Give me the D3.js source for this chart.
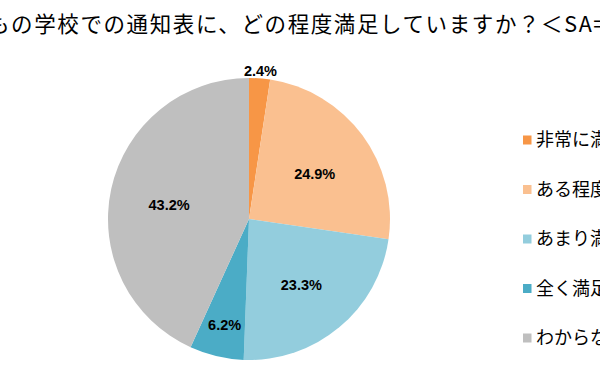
<!DOCTYPE html>
<html>
<head>
<meta charset="utf-8">
<script src="https://cdn.jsdelivr.net/npm/d3@7"></script>
<style>
  body { margin: 0; background: #fff; overflow: hidden; }
  svg { display: block; }
</style>
</head>
<body>
<div id="chart"></div>
<script>

// chart data
const titleText = "もの学校での通知表に、どの程度満足していますか？＜SA=";
const categories = ["非常に満足している", "ある程度満足している", "あまり満足していない", "全く満足していない", "わからない"];
const values = [2.4, 24.9, 23.3, 6.2, 43.2];
const colors = ["#F79646", "#FAC090", "#93CDDD", "#4BACC6", "#BFBFBF"];

const width = 600, height = 376;

const svg = d3.select("#chart").append("svg")
    .attr("width", width)
    .attr("height", height);

// title (left part is cut off in the original picture)
svg.append("text")
    .attr("x", -12)
    .attr("y", 32)
    .attr("font-family", "'Noto Sans CJK JP', sans-serif")
    .attr("font-size", 21.5)
    .attr("letter-spacing", 1.6)
    .attr("fill", "#000")
    .text(titleText);

// pie
const cx = 249, cy = 219, radius = 141;

const pie = d3.pie().sort(null).value(d => d);
const arcs = pie(values);

const arc = d3.arc().innerRadius(0).outerRadius(radius);

const g = svg.append("g")
    .attr("transform", "translate(" + cx + "," + cy + ")");

g.selectAll("path.slice")
    .data(arcs)
    .enter().append("path")
    .attr("class", "slice")
    .attr("d", arc)
    .attr("fill", (d, i) => colors[i]);

// label radius depends on slice size: tiny slices get their label outside
function labelRadius(d) {
    const v = d.data;
    if (v < 3) return radius + 11;
    if (v < 10) return radius * 0.75;
    return radius * 0.58;
}

g.selectAll("text.pct")
    .data(arcs)
    .enter().append("text")
    .attr("class", "pct")
    .attr("transform", function(d) {
        const r = labelRadius(d);
        const c = d3.arc().innerRadius(r).outerRadius(r).centroid(d);
        return "translate(" + c[0] + "," + (c[1] + 3) + ")";
    })
    .attr("text-anchor", "middle")
    .attr("dy", "0.36em")
    .attr("font-family", "'Liberation Sans', Arial, sans-serif")
    .attr("font-weight", "bold")
    .attr("font-size", 14.5)
    .attr("fill", "#000")
    .text(d => d.data.toFixed(1) + "%");

// legend
const legend = svg.append("g")
    .attr("transform", "translate(523,140)");

const legendStep = 49.5;

const items = legend.selectAll("g.item")
    .data(categories)
    .enter().append("g")
    .attr("class", "item")
    .attr("transform", (d, i) => "translate(0," + (i * legendStep) + ")");

items.append("rect")
    .attr("x", 0)
    .attr("y", -4.5)
    .attr("width", 8.5)
    .attr("height", 9)
    .attr("fill", (d, i) => colors[i]);

items.append("text")
    .attr("x", 13)
    .attr("dy", "0.36em")
    .attr("font-family", "'Noto Sans CJK JP', sans-serif")
    .attr("font-size", 18)
    .attr("fill", "#000")
    .text(d => d);

</script>
</body>
</html>
